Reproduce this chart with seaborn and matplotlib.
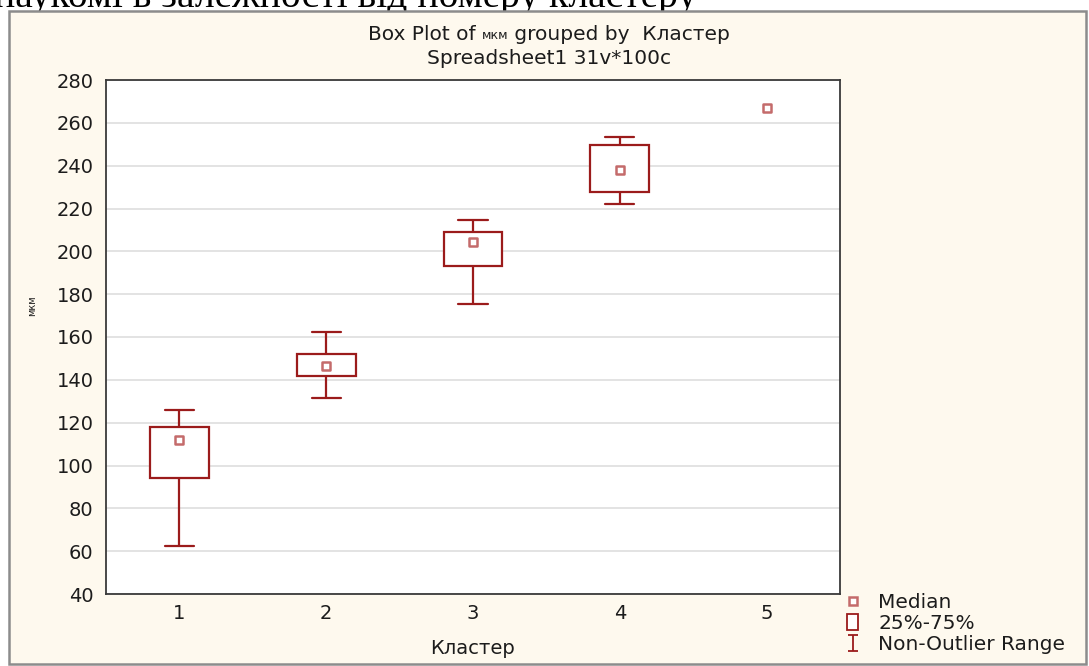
import numpy as np
import pandas as pd
import matplotlib
matplotlib.use("Agg")
import matplotlib.pyplot as plt
from matplotlib.lines import Line2D
from matplotlib.patches import Patch, Rectangle
from matplotlib.path import Path
import seaborn as sns

# Five-number summaries per cluster (мкм)
clusters = [1, 2, 3, 4, 5]
whisker_low = [62.4, 131.7, 175.4, 222.2, 267.1]
q1 = [94.3, 141.8, 193.3, 227.9, 267.1]
medians = [111.9, 146.5, 204.2, 238.0, 267.1]
q3 = [118.1, 152.2, 209.2, 249.6, 267.1]
whisker_high = [125.9, 162.5, 214.5, 253.2, 267.1]

y_ticks = [40, 60, 80, 100, 120, 140, 160, 180, 200, 220, 240, 260, 280]
legend_labels = ["Median", "25%-75%", "Non-Outlier Range"]
title_parts = ["Box Plot of ", "мкм", " grouped by  Кластер"]
subtitle = "Spreadsheet1 31v*100c"
x_label = "Кластер"
y_label = "мкм"
caption = "наукомі в залежності від номеру кластеру"

BOX = "#9b1b1b"
MED = "#c46b6b"
INK = "#1c1c1c"
PANEL = "#fef9ee"

sns.set_style("white")
plt.rcParams["font.family"] = ["DejaVu Sans"]

W, H = 1089, 666
fig = plt.figure(figsize=(W / 100, H / 100), dpi=100, facecolor="white")


def fx(px):
    return px / W


def fy(py):
    return 1 - py / H


# cream panel with grey frame
panel = Rectangle((fx(9), fy(664)), fx(1086) - fx(9), fy(11) - fy(664),
                  transform=fig.transFigure, facecolor=PANEL,
                  edgecolor="#8c8c8c", linewidth=1.8, zorder=-1)
fig.patches.append(panel)

# running text line above the panel
fig.text(fx(-6), fy(7), caption, fontfamily="Liberation Serif", fontsize=28.5,
         ha="left", va="baseline", color="black", zorder=-2)

ax = fig.add_axes([fx(106), fy(594), fx(840) - fx(106), fy(80) - fy(594)])
ax.set_facecolor("white")
ax.set_axisbelow(True)

# long-form data: each box is given by its five-number summary
rows = []
for c, lo, a, m, b, hi in zip(clusters, whisker_low, q1, medians, q3, whisker_high):
    if b > a:
        for v in (lo, a, m, b, hi):
            rows.append({"Кластер": c, "мкм": v})
df = pd.DataFrame(rows)

sns.boxplot(data=df, x="Кластер", y="мкм", native_scale=True, whis=(0, 100),
            width=0.4, color="white", linecolor=BOX, linewidth=1.6,
            medianprops={"visible": False}, showfliers=False, ax=ax)

sns.scatterplot(x=clusters, y=medians, marker="s", s=30, color="white",
                edgecolor=MED, linewidth=1.8, zorder=5, legend=False, ax=ax)

ax.set_xlim(0.5, 5.5)
ax.set_ylim(40, 280)
ax.set_xticks(clusters)
ax.set_xticklabels([str(c) for c in clusters])
ax.set_yticks(y_ticks)
ax.yaxis.grid(True, color="#dedede", linewidth=1.2)
ax.xaxis.grid(False)
for sp in ax.spines.values():
    sp.set_visible(True)
    sp.set_color("#3a3a3a")
    sp.set_linewidth(1.3)
ax.tick_params(axis="both", direction="in", length=4, width=1, color="#333333",
               labelsize=14, labelcolor=INK)
ax.tick_params(axis="y", pad=9)
ax.tick_params(axis="x", pad=7)

ax.set_xlabel(x_label, fontsize=14, color=INK, va="top")
ax.xaxis.set_label_coords(0.5, -0.088)
ax.set_ylabel(y_label, fontsize=7, color=INK)
ax.yaxis.set_label_coords(-0.094, 0.56)

# two-line title with a smaller unit in the first line
t1 = fig.text(fx(363), fy(40), title_parts[0], fontsize=14.5, color=INK,
              ha="left", va="baseline")
t2 = ax.annotate(title_parts[1], xy=(1, 0), xycoords=t1, xytext=(0, 1.5),
                 textcoords="offset points", fontsize=9, color=INK,
                 ha="left", va="bottom", annotation_clip=False)
t3 = ax.annotate(title_parts[2], xy=(1, 0), xycoords=t2, xytext=(0, -1.5),
                 textcoords="offset points", fontsize=14.5, color=INK,
                 ha="left", va="bottom", annotation_clip=False)
fig.text(fx(549), fy(59), subtitle, fontsize=14.5, color=INK,
         ha="center", va="center")

# legend
ibeam = Path([(-0.6, 1), (0.6, 1), (0, 1), (0, -1), (-0.6, -1), (0.6, -1)],
             [Path.MOVETO, Path.LINETO, Path.MOVETO, Path.LINETO,
              Path.MOVETO, Path.LINETO])
handles = [
    Line2D([], [], ls="none", marker="s", markersize=6, markerfacecolor="white",
           markeredgecolor=MED, markeredgewidth=1.8),
    Patch(facecolor="white", edgecolor=BOX, linewidth=1.3),
    Line2D([], [], ls="none", marker=ibeam, markersize=11, markerfacecolor="none",
           markeredgecolor=BOX, markeredgewidth=1.3),
]
fig.legend(handles, legend_labels, loc="upper left",
           bbox_to_anchor=(fx(847), fy(593)), frameon=False, fontsize=14.5,
           handlelength=0.55, handleheight=0.8, handletextpad=1.0,
           labelspacing=0.1, borderpad=0, borderaxespad=0, labelcolor=INK)

# centre the first title line
fig.canvas.draw()
r = fig.canvas.get_renderer()
b1 = t1.get_window_extent(r)
b3 = t3.get_window_extent(r)
width = b3.x1 - b1.x0
t1.set_x(fx(549) - width / 2 / W)

fig.savefig("out.png", dpi=100, facecolor=fig.get_facecolor())
